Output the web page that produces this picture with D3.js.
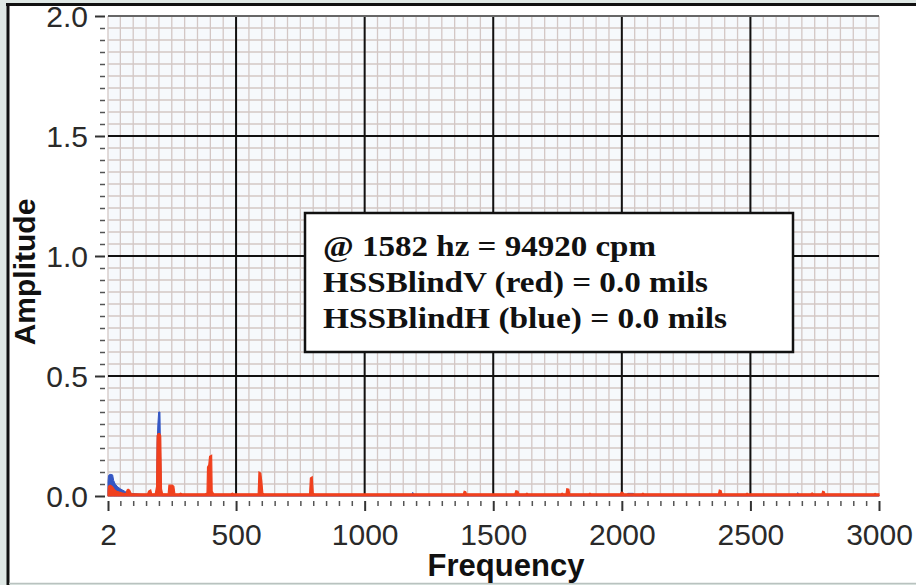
<!DOCTYPE html>
<html>
<head>
<meta charset="utf-8">
<script src="https://cdn.jsdelivr.net/npm/d3@7"></script>
<style>
  body { margin: 0; background: #dfe8e5; }
  svg { display: block; }
</style>
</head>
<body>
<div id="chart"></div>
<script>
// tick labels
const xTicks = [2, 500, 1000, 1500, 2000, 2500, 3000];
const yTicks = [0, 0.5, 1.0, 1.5, 2.0];

// HSSBlindV spectrum (red)
const redFreq = [2, 4, 10, 16, 22, 28, 36, 46, 56, 66, 72, 76, 80, 86, 92, 120, 140, 156, 160, 168, 172, 186, 191, 193, 197, 203, 207, 210, 214,
  236, 239, 245, 252, 258, 262, 280, 284, 290, 380, 387, 389, 394, 397, 405, 407, 410, 414, 480, 486, 490,
  586, 589, 596, 600, 604, 608, 786, 789, 796, 800, 804, 1384, 1387, 1393, 1396, 1584, 1588, 1596, 1600, 1627, 1631, 1635,
  1764, 1768, 1772, 1783, 1786, 1794, 1797, 1872, 1876, 1880, 1994, 1998, 2004, 2008, 2078, 2082, 2086, 2376, 2379, 2386, 2389,
  2483, 2487, 2491, 2735, 2740, 2745, 2778, 2781, 2787, 2790, 2981, 2985, 2989, 3000];
const redAmp = [0.02, 0.04, 0.045, 0.042, 0.035, 0.025, 0.02, 0.016, 0.013, 0.011, 0.01, 0.025, 0.028, 0.024, 0.01, 0.009, 0.009, 0.009, 0.02, 0.025, 0.009, 0.01, 0.04, 0.25, 0.26, 0.26, 0.25, 0.03, 0.01,
  0.009, 0.045, 0.045, 0.045, 0.04, 0.009, 0.009, 0.012, 0.009, 0.009, 0.012, 0.12, 0.13, 0.165, 0.17, 0.02, 0.014, 0.009, 0.009, 0.012, 0.009,
  0.009, 0.1, 0.095, 0.06, 0.012, 0.009, 0.009, 0.075, 0.08, 0.012, 0.009, 0.009, 0.02, 0.018, 0.009, 0.009, 0.022, 0.02, 0.009, 0.009, 0.012, 0.009,
  0.009, 0.012, 0.009, 0.009, 0.03, 0.028, 0.009, 0.009, 0.012, 0.009, 0.009, 0.016, 0.014, 0.009, 0.009, 0.012, 0.009, 0.009, 0.025, 0.022, 0.009,
  0.009, 0.012, 0.009, 0.009, 0.013, 0.009, 0.009, 0.02, 0.018, 0.009, 0.009, 0.011, 0.009, 0.009];

// HSSBlindH spectrum (blue)
const blueFreq = [2, 4, 8, 14, 20, 24, 30, 40, 50, 60, 70, 80, 90, 110, 130, 150, 191, 193, 196, 199, 204, 206, 209,
  1183, 1187, 1192, 2018, 2023, 2045, 2050, 2680, 2684, 2689, 3000];
const blueAmp = [0.06, 0.085, 0.09, 0.09, 0.088, 0.065, 0.05, 0.038, 0.03, 0.024, 0.018, 0.014, 0.011, 0.009, 0.007, 0.006, 0.006, 0.22, 0.3, 0.35, 0.35, 0.2, 0.006,
  0.004, 0.015, 0.004, 0.004, 0.011, 0.011, 0.004, 0.004, 0.014, 0.004, 0.004];

const noteLines = ["@ 1582 hz = 94920 cpm", "HSSBlindV (red) = 0.0 mils", "HSSBlindH (blue) = 0.0 mils"];

const W = 916, H = 585;
const plot = {left: 108, right: 879, top: 16, bottom: 496};

const svg = d3.select('#chart').append('svg')
    .attr('width', W)
    .attr('height', H);

// white panel with dark frame on top / left
svg.append('rect')
    .attr('x', 8).attr('y', 4)
    .attr('width', W - 8).attr('height', 579)
    .attr('fill', '#fff');
svg.append('line').attr('x1', 6).attr('x2', W).attr('y1', 4.5).attr('y2', 4.5)
    .attr('stroke', '#111').attr('stroke-width', 3);
svg.append('line').attr('x1', 8).attr('x2', 8).attr('y1', 3).attr('y2', H)
    .attr('stroke', '#111').attr('stroke-width', 3);
svg.append('line').attr('x1', 9).attr('x2', W).attr('y1', 583.5).attr('y2', 583.5)
    .attr('stroke', '#b9c2bf').attr('stroke-width', 1.5);

const x = d3.scaleLinear().domain([2, 3000]).range([plot.left, plot.right]);
const y = d3.scaleLinear().domain([0, 2]).range([plot.bottom, plot.top]);

const g = svg.append('g');

// plot background
g.append('rect')
    .attr('x', plot.left).attr('y', plot.top)
    .attr('width', plot.right - plot.left).attr('height', plot.bottom - plot.top)
    .attr('fill', '#f6f9fc');

// minor grid
const xMinor = [2].concat(d3.range(50, 3001, 50));
const yMinor = d3.range(0, 41).map(i => i * 0.05);

g.append('g').selectAll('line')
    .data(xMinor)
    .enter().append('line')
    .attr('x1', d => x(d)).attr('x2', d => x(d))
    .attr('y1', plot.top).attr('y2', plot.bottom)
    .attr('stroke', '#d3c7c5').attr('stroke-width', 1.3);

g.append('g').selectAll('line')
    .data(yMinor)
    .enter().append('line')
    .attr('x1', plot.left).attr('x2', plot.right)
    .attr('y1', d => y(d)).attr('y2', d => y(d))
    .attr('stroke', '#d3c7c5').attr('stroke-width', 1.3);

// major grid
g.append('g').selectAll('line')
    .data(xTicks.slice(1, -1))
    .enter().append('line')
    .attr('x1', d => x(d)).attr('x2', d => x(d))
    .attr('y1', plot.top).attr('y2', plot.bottom)
    .attr('stroke', '#111').attr('stroke-width', 2);

g.append('g').selectAll('line')
    .data(yTicks.slice(1, -1))
    .enter().append('line')
    .attr('x1', plot.left).attr('x2', plot.right)
    .attr('y1', d => y(d)).attr('y2', d => y(d))
    .attr('stroke', '#111').attr('stroke-width', 2);

// top frame line
g.append('line')
    .attr('x1', plot.left).attr('x2', plot.right)
    .attr('y1', y(2)).attr('y2', y(2))
    .attr('stroke', '#666').attr('stroke-width', 2);

// spectra
const area = d3.area()
    .x(d => x(d[0]))
    .y0(y(0))
    .y1(d => y(d[1]));

const blueData = d3.zip(blueFreq, blueAmp);
const redData = d3.zip(redFreq, redAmp);

g.append('path')
    .datum(blueData)
    .attr('d', area)
    .attr('fill', '#3457c4')
    .attr('stroke', '#3457c4')
    .attr('stroke-width', 1);

g.append('path')
    .datum(redData)
    .attr('d', area)
    .attr('fill', '#f0401e')
    .attr('stroke', '#f0401e')
    .attr('stroke-width', 1.2);

// axes
const tickFont = 'Liberation Sans, Arial, sans-serif';

function styleAxis(sel) {
    sel.select('.domain').remove();
    sel.selectAll('.tick line').attr('stroke', '#333').attr('stroke-width', 2);
    sel.selectAll('.tick text')
        .attr('fill', '#2a2a2a')
        .style('font-family', tickFont)
        .style('font-size', '30px');
}

const yAxisMinor = svg.append('g')
    .attr('transform', `translate(105,0)`)
    .call(d3.axisLeft(y).tickValues(yMinor.filter(v => Math.round(v * 100) % 50 !== 0)).tickSize(5).tickFormat(''));
styleAxis(yAxisMinor);
yAxisMinor.selectAll('.tick line').attr('stroke-width', 1.5).attr('stroke', '#555');

const yAxis = svg.append('g')
    .attr('transform', `translate(105,0)`)
    .call(d3.axisLeft(y).tickValues(yTicks).tickSize(10).tickPadding(7).tickFormat(d3.format('.1f')));
styleAxis(yAxis);
yAxis.selectAll('.tick text').attr('dy', '0.36em');

const xAxisMinor = svg.append('g')
    .attr('transform', `translate(0,501)`)
    .call(d3.axisBottom(x).tickValues(xMinor.filter(v => xTicks.indexOf(v) < 0)).tickSize(5).tickFormat(''));
styleAxis(xAxisMinor);
xAxisMinor.selectAll('.tick line').attr('stroke-width', 1.5).attr('stroke', '#555');

const xAxis = svg.append('g')
    .attr('transform', `translate(0,501)`)
    .call(d3.axisBottom(x).tickValues(xTicks).tickSize(10).tickPadding(13).tickFormat(d3.format('d')));
styleAxis(xAxis);

// axis titles
svg.append('text')
    .attr('x', 506).attr('y', 576)
    .attr('text-anchor', 'middle')
    .style('font-family', 'Liberation Sans, Arial, sans-serif')
    .style('font-weight', 'bold')
    .style('font-size', '31px')
    .attr('fill', '#111')
    .text('Frequency');

svg.append('text')
    .attr('transform', 'translate(35,272) rotate(-90)')
    .attr('text-anchor', 'middle')
    .style('font-family', 'Liberation Sans, Arial, sans-serif')
    .style('font-weight', 'bold')
    .style('font-size', '30px')
    .attr('fill', '#111')
    .text('Amplitude');

// annotation box
const note = svg.append('g');
note.append('rect')
    .attr('x', 305).attr('y', 213)
    .attr('width', 488).attr('height', 139)
    .attr('fill', '#fff')
    .attr('stroke', '#111')
    .attr('stroke-width', 2.5);

const noteWidths = [333, 385, 404];
note.selectAll('text')
    .data(noteLines)
    .enter().append('text')
    .attr('x', 323)
    .attr('y', (d, i) => 256 + i * 36)
    .attr('textLength', (d, i) => noteWidths[i])
    .attr('lengthAdjust', 'spacingAndGlyphs')
    .style('font-family', 'Liberation Serif, Times New Roman, serif')
    .style('font-weight', 'bold')
    .style('font-size', '29px')
    .attr('fill', '#111')
    .text(d => d);
</script>
</body>
</html>
